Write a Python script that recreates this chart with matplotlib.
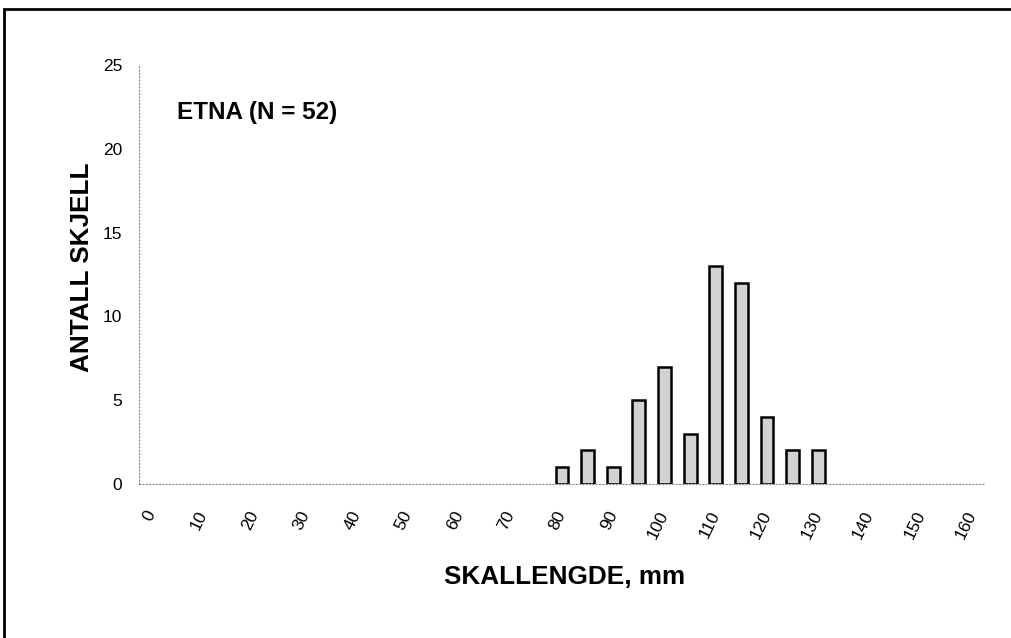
import matplotlib
matplotlib.use("Agg")
import matplotlib.pyplot as plt
from matplotlib.patches import Rectangle

plt.rcParams['font.family'] = ['Liberation Sans', 'DejaVu Sans']

# Data
lengths = list(range(0, 165, 5))            # shell length classes, mm
counts = [0]*16 + [1, 2, 1, 5, 7, 3, 13, 12, 4, 2, 2] + [0]*6
tick_labels = [str(v) if v % 10 == 0 else "" for v in lengths]
title_text = "ETNA (N = 52)"
x_title = "SKALLENGDE, mm"
y_title = "ANTALL SKJELL"
y_ticks = [0, 5, 10, 15, 20, 25]

fig = plt.figure(figsize=(10.12, 6.38), dpi=100)
ax = fig.add_axes([139/1012, 1-484/638, (985-139)/1012, (484-65)/638])

pos = list(range(len(lengths)))
edges = ['black' if c > 0 else 'none' for c in counts]
ax.bar(pos, counts, width=0.5, color='#d2d2d2', edgecolor=edges, linewidth=1.8, zorder=3)

ax.set_xlim(-0.5, len(lengths)-0.5)
ax.set_ylim(0, 25)

for s in ['top', 'right']:
    ax.spines[s].set_visible(False)
for s in ['left', 'bottom']:
    ax.spines[s].set_color('#888888')
    ax.spines[s].set_linestyle((0, (1, 2)))
    ax.spines[s].set_linewidth(0.8)

ax.set_yticks(y_ticks)
ax.set_yticklabels([str(v) for v in y_ticks], fontsize=12.5)
ax.tick_params(axis='y', length=0, pad=12)

ax.set_xticks(pos)
ax.set_xticklabels(tick_labels, fontsize=12.5)
ax.tick_params(axis='x', length=0, pad=20)
for lbl in ax.get_xticklabels():
    lbl.set_rotation(64)
    lbl.set_rotation_mode('anchor')
    lbl.set_ha('right')
    lbl.set_va('center')

fig.text(565/1012, 1-577/638, x_title, fontsize=18.8, fontweight='bold', ha='center', va='center')
fig.text(82/1012, 1-267/638, y_title, fontsize=18.8, fontweight='bold', ha='center', va='center', rotation=90)
fig.text(177/1012, 1-112/638, title_text, fontsize=17.5, fontweight='bold', ha='left', va='center')

# page frame
fig.patches.append(Rectangle((4/1012, -0.1), 1.2, 1-9/638+0.1, transform=fig.transFigure,
                             fill=False, edgecolor='black', linewidth=2))

fig.savefig('out.png', dpi=100)
